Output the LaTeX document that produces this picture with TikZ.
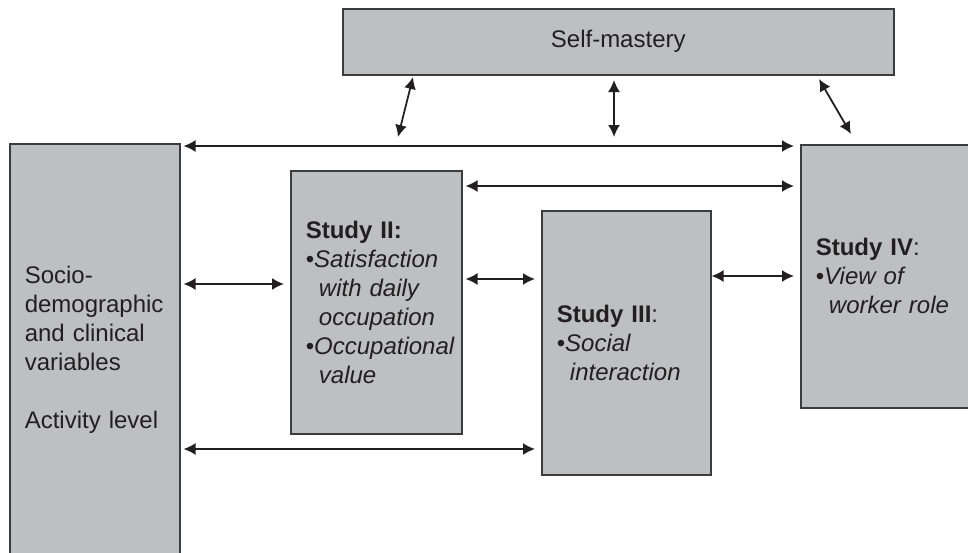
\documentclass[tikz,border=0pt]{standalone}
\usepackage{fontspec}
\setmainfont{Liberation Sans}
\usetikzlibrary{arrows.meta}
\definecolor{boxfill}{RGB}{190,191,195}
\definecolor{boxline}{RGB}{60,60,62}
\definecolor{ink}{RGB}{35,31,32}
\tikzset{
  box/.style={draw=boxline,fill=boxfill,line width=1.5pt,inner xsep=15pt,inner ysep=0pt,
    anchor=north west,align=left,text=ink,font=\fontsize{24}{29}\selectfont},
  link/.style={<->,draw=ink,line width=1.8pt},
  gap/.style={shorten <=3pt,shorten >=6pt}
}
\newcommand{\ind}{\hspace*{0.55em}}
\begin{document}
\begin{tikzpicture}[x=1pt,y=-1pt,>={Latex[length=12pt,width=12pt]}]
\useasboundingbox (0,0) rectangle (968,552);
\clip (0,0) rectangle (968,552);
% boxes
\node[box,align=center,minimum width=551pt,minimum height=66pt] (self) at (342,8) {Self-mastery};
\node[box,text width=140pt,minimum height=413pt] (soc) at (9,143)
  {Socio-\\demographic\\and clinical\\variables\\[29pt]Activity level};
\node[box,text width=141pt,minimum height=263pt] (s2) at (290,170)
  {\textbf{Study II:}\\\textbullet\textit{Satisfaction}\\\ind\textit{with daily}\\\ind\textit{occupation}\\\textbullet\textit{Occupational}\\\ind\textit{value}};
\node[box,text width=139pt,minimum height=264pt] (s3) at (541,210)
  {\textbf{Study III}:\\\textbullet\textit{Social}\\\ind\textit{interaction}};
\node[box,text width=170pt,minimum height=263pt] (s4) at (800,144)
  {\textbf{Study IV}:\\\textbullet\textit{View of}\\\ind\textit{worker role}};
% links between boxes
\draw[link,gap] (soc.east |- 0,146) -- (s4.west |- 0,146);
\draw[link,gap] (s2.east |- 0,186) -- (s4.west |- 0,186);
\draw[link,gap] (soc.east |- 0,284) -- (s2.west |- 0,284);
\draw[link,gap] (s2.east |- 0,279) -- (s3.west |- 0,279);
\draw[link,shorten >=6pt] (s3.east |- 0,276) -- (s4.west |- 0,276);
\draw[link,gap] (soc.east |- 0,449) -- (s3.west |- 0,449);
% links to self-mastery
\coordinate (a1) at (413,77);
\coordinate (b1) at (398,137);
\coordinate (a2) at (614,80);
\coordinate (b2) at (614,137);
\coordinate (a3) at (819,79);
\coordinate (b3) at (851,134);
\draw[link] (a1) -- (b1);
\draw[link] (a2) -- (b2);
\draw[link] (a3) -- (b3);
\end{tikzpicture}
\end{document}
